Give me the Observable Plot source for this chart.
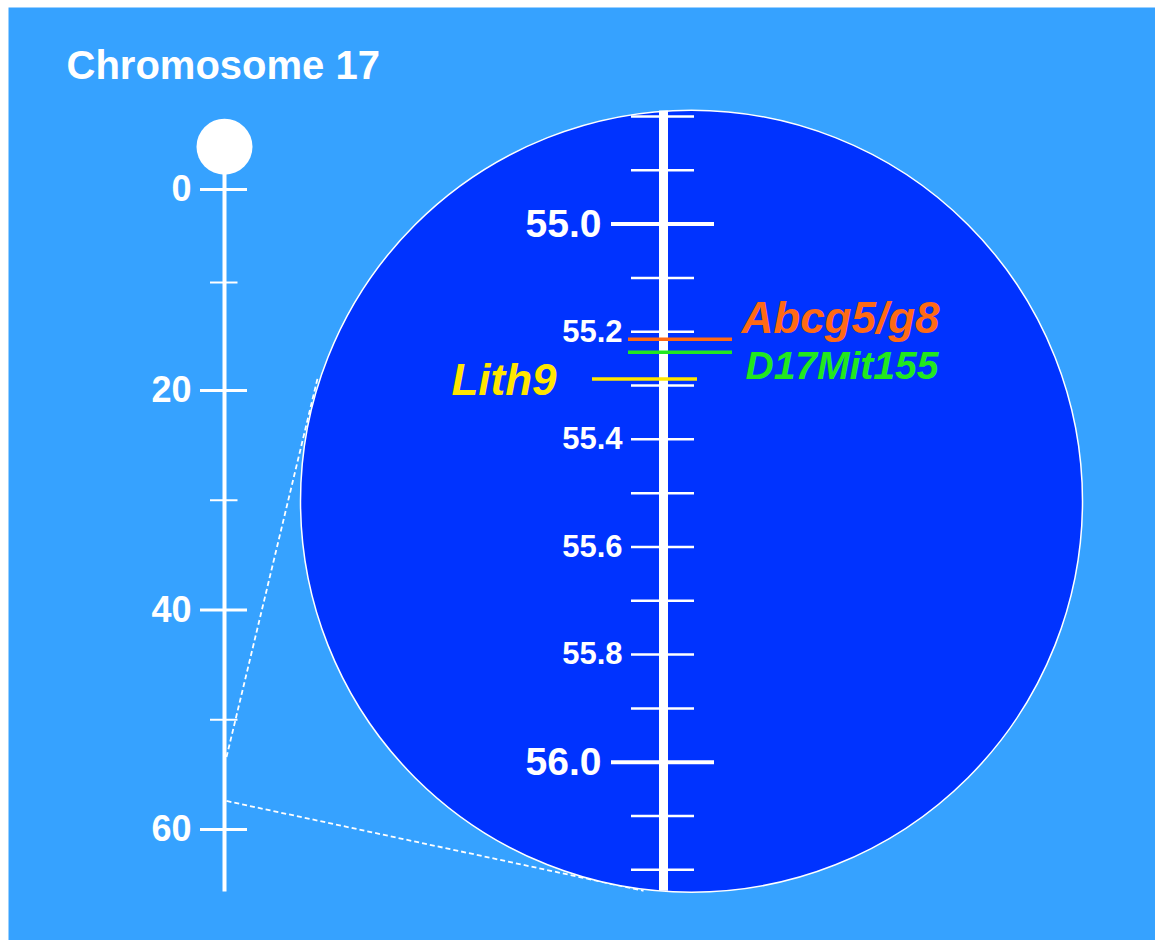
<!DOCTYPE html>
<html>
<head>
<meta charset="utf-8">
<script src="https://cdn.jsdelivr.net/npm/d3@7"></script>
<script src="https://cdn.jsdelivr.net/npm/@observablehq/plot@0.6"></script>
<style>
html, body { margin: 0; padding: 0; background: #ffffff; overflow: hidden; }
#chart { position: relative; width: 1155px; height: 940px; }
#chart svg { position: absolute; left: 0; top: 0; }
</style>
</head>
<body>
<div id="chart"></div>
<script>
// ---------------- data ----------------
const title = "Chromosome 17";
// overview chromosome (cM)
const overviewMajorTicks = [0, 20, 40, 60];
const overviewMinorTicks = [10, 30, 50];
const overviewExtent = [-2, 65.7];
const centromereCM = -4.6;
// zoomed region (Mb)
const zoomMajorTicks = [55.0, 56.0];
const zoomMinorTicks = [54.8, 54.9, 55.1, 55.2, 55.3, 55.4, 55.5, 55.6, 55.7, 55.8, 55.9, 56.1, 56.2];
const zoomMinorLabels = [55.2, 55.4, 55.6, 55.8];
const zoomExtent = [54.79, 56.24];
// markers
const markerNames = ["Abcg5/g8", "D17Mit155", "Lith9"];
const markerPositions = [55.214, 55.238, 55.288];
const markerSides = ["right", "right", "left"];
// connector lines: from overview (cM) to zoom circle (Mb)
const connectorFromCM = [53.4, 57.4];
const connectorToMb = [55.287, 56.239];

// ---------------- styles & layout ----------------
const W = 1155, H = 940;
const FONT = "Liberation Sans, Arial, Helvetica, sans-serif";
const colors = {
  background: "#36a2ff",
  zoom: "#0033ff",
  ink: "#ffffff",
  markers: ["#ff6a14", "#22e81e", "#ffe600"]
};
const layout = {
  chromX: 224,
  chromKnotsCM: [0, 10, 20, 60],
  chromKnotsPx: [189, 282, 390, 829],
  majorTickX: [200, 247],
  minorTickX: [210, 237.5],
  labelX: 191,
  labelSize: 36,
  centromereR: 28,
  zoomCenterX: 691,
  zoomR: 391,
  zoomDomain: [54.8, 56.2],
  zoomRange: [116, 869.3],
  zoomAxisX: 663,
  zoomMajorX: [611, 714],
  zoomMinorX: [631, 694],
  zoomMajorLabelX: 601,
  zoomMinorLabelX: 622,
  zoomMajorSize: 39,
  zoomMinorSize: 31,
  markerRightX: [628, 732],
  markerLeftX: [592, 697],
  markerRightLabelX: 741,
  markerLeftLabelX: 556,
  markerLabelDx: [0, 4, 0],
  markerLabelDy: [-20, 14, 2],
  markerFontSize: [44, 39, 44],
  connectorToX: [317, 643],
  titleSize: 40,
  titleDx: 58, titleDy: 59
};

const yL = Plot.scale({y: {type: "linear", domain: layout.chromKnotsCM, range: layout.chromKnotsPx}});
const yZ = Plot.scale({y: {type: "linear", domain: layout.zoomDomain, range: layout.zoomRange}});

const connectors = connectorFromCM.map((cm, i) => ({
  cm,
  toCM: yL.invert(yZ.apply(connectorToMb[i])),
  toX: layout.connectorToX[i]
}));

const markers = markerNames.map((name, i) => ({
  name, pos: markerPositions[i], side: markerSides[i], color: colors.markers[i],
  dx: layout.markerLabelDx[i], dy: layout.markerLabelDy[i], size: layout.markerFontSize[i]
}));

// ---------------- overview plot ----------------
const overview = Plot.plot({
  width: W, height: H,
  marginLeft: 8, marginTop: 7, marginRight: 0, marginBottom: 0,
  x: {type: "identity", axis: null},
  y: {type: "linear", domain: layout.chromKnotsCM, range: layout.chromKnotsPx, axis: null},
  style: {background: "transparent", overflow: "visible", fontFamily: FONT},
  marks: [
    Plot.frame({fill: colors.background, stroke: null}),
    Plot.text([title], {
      frameAnchor: "top-left", dx: layout.titleDx, dy: layout.titleDy,
      textAnchor: "start", lineAnchor: "middle",
      fontSize: layout.titleSize, fontWeight: "bold", fill: colors.ink, fontFamily: FONT
    }),
    Plot.ruleX([layout.chromX], {y1: overviewExtent[0], y2: overviewExtent[1], stroke: colors.ink, strokeWidth: 4}),
    Plot.dot([centromereCM], {x: layout.chromX, y: d => d, r: layout.centromereR, fill: colors.ink, stroke: null}),
    Plot.ruleY(overviewMajorTicks, {y: d => d, x1: layout.majorTickX[0], x2: layout.majorTickX[1], stroke: colors.ink, strokeWidth: 3}),
    Plot.ruleY(overviewMinorTicks, {y: d => d, x1: layout.minorTickX[0], x2: layout.minorTickX[1], stroke: colors.ink, strokeWidth: 2}),
    Plot.text(overviewMajorTicks, {
      x: layout.labelX, y: d => d, text: d => String(d),
      textAnchor: "end", fontSize: layout.labelSize, fontWeight: "bold", fill: colors.ink, fontFamily: FONT
    }),
    Plot.link(connectors, {
      x1: layout.chromX + 2, y1: "cm", x2: "toX", y2: "toCM",
      stroke: colors.ink, strokeWidth: 1.8, strokeDasharray: "5,3"
    })
  ]
});

// ---------------- zoom plot ----------------
const zoomMarks = [
  Plot.dot([d3.mean(zoomExtent)], {
    x: layout.zoomCenterX, y: d => d, r: layout.zoomR,
    fill: colors.zoom, stroke: colors.ink, strokeWidth: 1.5
  }),
  Plot.ruleY(zoomMinorTicks, {y: d => d, x1: layout.zoomMinorX[0], x2: layout.zoomMinorX[1], stroke: colors.ink, strokeWidth: 2.5}),
  Plot.ruleY(zoomMajorTicks, {y: d => d, x1: layout.zoomMajorX[0], x2: layout.zoomMajorX[1], stroke: colors.ink, strokeWidth: 4}),
  Plot.ruleX([layout.zoomAxisX], {y1: zoomExtent[0], y2: zoomExtent[1], stroke: colors.ink, strokeWidth: 9}),
  Plot.text(zoomMajorTicks, {
    x: layout.zoomMajorLabelX, y: d => d, text: d => d.toFixed(1),
    textAnchor: "end", fontSize: layout.zoomMajorSize, fontWeight: "bold", fill: colors.ink, fontFamily: FONT
  }),
  Plot.text(zoomMinorLabels, {
    x: layout.zoomMinorLabelX, y: d => d, text: d => d.toFixed(1),
    textAnchor: "end", fontSize: layout.zoomMinorSize, fontWeight: "bold", fill: colors.ink, fontFamily: FONT
  })
];
for (const m of markers) {
  const xr = m.side === "right" ? layout.markerRightX : layout.markerLeftX;
  zoomMarks.push(Plot.ruleY([m], {y: "pos", x1: xr[0], x2: xr[1], stroke: m.color, strokeWidth: 3.5}));
  zoomMarks.push(Plot.text([m], {
    x: m.side === "right" ? layout.markerRightLabelX : layout.markerLeftLabelX,
    y: "pos", text: "name", dx: m.dx, dy: m.dy,
    textAnchor: m.side === "right" ? "start" : "end",
    fontSize: m.size, fontWeight: "bold", fontStyle: "italic", fill: m.color, fontFamily: FONT
  }));
}

const zoom = Plot.plot({
  width: W, height: H,
  margin: 0,
  x: {type: "identity", axis: null},
  y: {type: "linear", domain: layout.zoomDomain, range: layout.zoomRange, axis: null},
  style: {background: "transparent", overflow: "visible", fontFamily: FONT},
  marks: zoomMarks
});

const chart = document.getElementById("chart");
chart.append(overview, zoom);
</script>
</body>
</html>
